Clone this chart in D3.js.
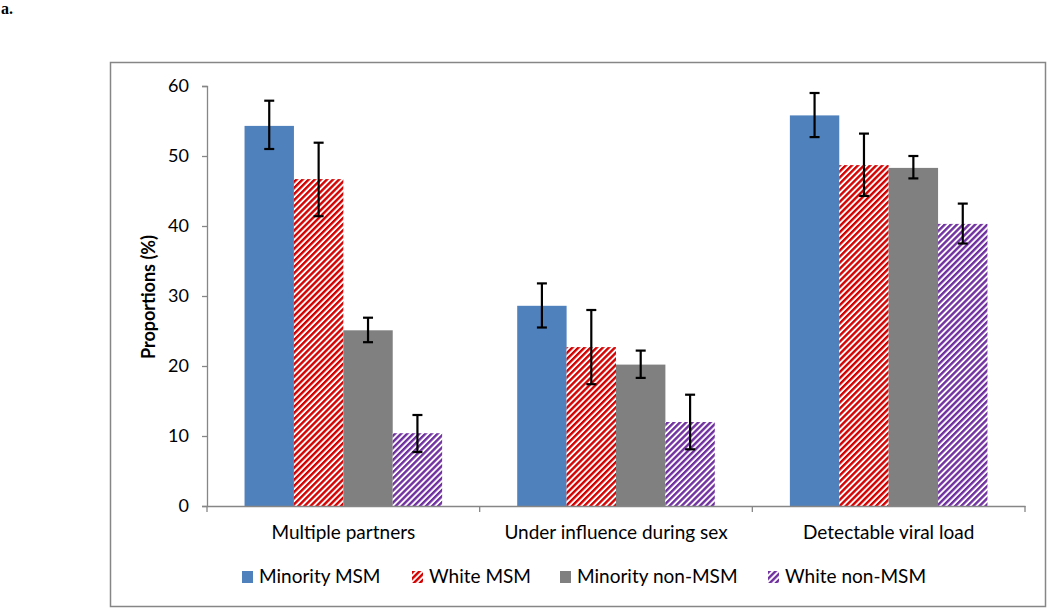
<!DOCTYPE html>
<html><head><meta charset="utf-8">
<script src="https://cdn.jsdelivr.net/npm/d3@7"></script>
<style>body{margin:0;background:#fff}svg{display:block}</style>
</head><body>
<svg id="chart" width="1050" height="609"></svg>
<script>
const categories = ["Multiple partners", "Under influence during sex", "Detectable viral load"];
const seriesNames = ["Minority MSM", "White MSM", "Minority non-MSM", "White non-MSM"];
const values = {
  "Minority MSM":     [54.3, 28.6, 55.8],
  "White MSM":        [46.7, 22.7, 48.7],
  "Minority non-MSM": [25.1, 20.2, 48.3],
  "White non-MSM":    [10.4, 12.0, 40.3]
};
const errLow = {
  "Minority MSM":     [51.0, 25.5, 52.7],
  "White MSM":        [41.4, 17.4, 44.3],
  "Minority non-MSM": [23.4, 18.3, 46.8],
  "White non-MSM":    [7.7, 8.1, 37.5]
};
const errHigh = {
  "Minority MSM":     [57.9, 31.8, 59.0],
  "White MSM":        [51.9, 28.0, 53.2],
  "Minority non-MSM": [26.9, 22.2, 50.0],
  "White non-MSM":    [13.0, 15.9, 43.2]
};
const yTicks = [0, 10, 20, 30, 40, 50, 60];

const svg = d3.select("#chart");
const font = "Lato, 'Open Sans', sans-serif";
const defs = svg.append("defs");
function hatch(id, color) {
  const p = defs.append("pattern").attr("id", id).attr("patternUnits", "userSpaceOnUse")
    .attr("width", 4.3).attr("height", 4.3).attr("patternTransform", "rotate(45)");
  p.append("rect").attr("width", 4.3).attr("height", 4.3).attr("fill", "#fff");
  p.append("rect").attr("width", 2.4).attr("height", 4.3).attr("fill", color);
}
hatch("hRed", "#d40000");
hatch("hPurple", "#7030a0");
const fills = {
  "Minority MSM": "#4f81bd",
  "White MSM": "url(#hRed)",
  "Minority non-MSM": "#808080",
  "White non-MSM": "url(#hPurple)"
};

// "a." label
svg.append("text").attr("x", 1).attr("y", 14).attr("font-family", "'Liberation Serif', serif")
  .attr("font-weight", "bold").attr("font-size", 16).text("a.");

// outer border
svg.append("rect").attr("x", 110.5).attr("y", 62.5).attr("width", 935).attr("height", 544)
  .attr("fill", "none").attr("stroke", "#868686").attr("stroke-width", 1.5);

const x0 = d3.scaleBand().domain(categories).range([207, 1025]).padding(0);
const x1 = d3.scaleBand().domain(seriesNames).range([0, x0.bandwidth()]).paddingInner(0).paddingOuter(0.76);
const y = d3.scaleLinear().domain([0, 60]).range([506, 86]);

// y axis
const yAxis = svg.append("g").attr("transform", "translate(207,0)")
  .call(d3.axisLeft(y).tickValues(yTicks).tickSize(5).tickPadding(13));
yAxis.select(".domain").attr("stroke", "#868686").attr("stroke-width", 1.3);
yAxis.selectAll(".tick line").attr("stroke", "#868686").attr("stroke-width", 1.3);
yAxis.selectAll(".tick text").attr("font-family", font).attr("font-size", 18).attr("fill", "#000");

// bars
const groups = svg.append("g").selectAll("g").data(seriesNames).join("g");
groups.each(function(s) {
  const g = d3.select(this);
  categories.forEach((c, i) => {
    const v = values[s][i];
    g.append("rect").attr("x", x0(c) + x1(s)).attr("y", y(v))
      .attr("width", x1.bandwidth()).attr("height", y(0) - y(v)).attr("fill", fills[s]);
  });
});

// x axis
const xAxis = svg.append("g").attr("transform", "translate(0,506)")
  .call(d3.axisBottom(x0).tickSize(0).tickPadding(20));
xAxis.select(".domain").attr("stroke", "#868686").attr("stroke-width", 1.3);
xAxis.selectAll(".tick text").attr("font-family", font).attr("font-size", 19).attr("fill", "#000");
// boundary ticks
const bounds = [x0.range()[0]].concat(categories.map(c => x0(c) + x0.bandwidth()));
svg.append("g").selectAll("line").data(bounds).join("line")
  .attr("x1", d => d).attr("x2", d => d).attr("y1", 506).attr("y2", 512)
  .attr("stroke", "#868686").attr("stroke-width", 1.3);

// error bars
const eg = svg.append("g").attr("stroke", "#000").attr("stroke-width", 2.2);
seriesNames.forEach(s => {
  categories.forEach((c, i) => {
    const cx = x0(c) + x1(s) + x1.bandwidth() / 2;
    eg.append("line").attr("x1", cx).attr("x2", cx).attr("y1", y(errLow[s][i])).attr("y2", y(errHigh[s][i]));
    eg.append("line").attr("x1", cx - 5).attr("x2", cx + 5).attr("y1", y(errLow[s][i])).attr("y2", y(errLow[s][i]));
    eg.append("line").attr("x1", cx - 5).attr("x2", cx + 5).attr("y1", y(errHigh[s][i])).attr("y2", y(errHigh[s][i]));
  });
});

// y title
svg.append("text").attr("transform", "translate(155,297) rotate(-90)")
  .attr("text-anchor", "middle").attr("font-family", font).attr("font-weight", "bold")
  .attr("font-size", 18).text("Proportions (%)");

// legend
const legendX = [242, 412, 560, 768];
const lg = svg.append("g").selectAll("g").data(seriesNames).join("g")
  .attr("transform", (d, i) => `translate(${legendX[i]},571)`);
lg.append("rect").attr("width", 11).attr("height", 12).attr("fill", d => fills[d]);
lg.append("text").attr("x", 17).attr("y", 12).attr("font-family", font).attr("font-size", 19)
  .text(d => d);
</script>
</body></html>
